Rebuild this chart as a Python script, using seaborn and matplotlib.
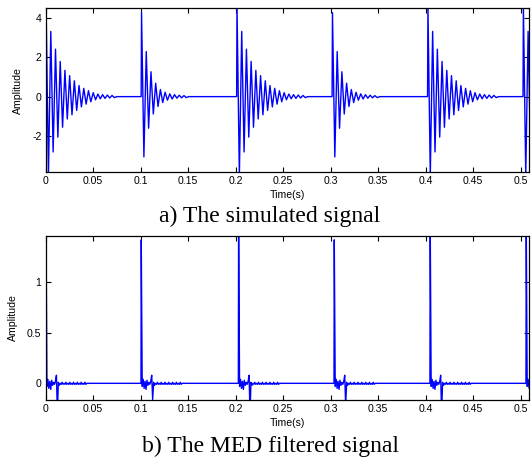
import matplotlib
matplotlib.use("Agg")
import numpy as np
import pandas as pd
import matplotlib.pyplot as plt
from matplotlib.ticker import FixedLocator, FuncFormatter
import seaborn as sns

# ---- simulated signal: impact bursts ----
burst_times = [0.0, 0.1005, 0.201, 0.3015, 0.402, 0.5025]
burst_shape = ["long", "short", "long", "short", "long", "long"]
half_period = 0.00248
# successive half-cycle extremes of one ringing burst
long_extremes = [4.6, -4.0, 3.3, -2.8, 2.4, -2.05, 1.78, -1.55, 1.33, -1.13,
                 1.06, -0.92, 0.8, -0.7, 0.56, -0.52, 0.42, -0.38, 0.3, -0.26,
                 0.2, -0.16, 0.13, -0.11, 0.1, -0.09, 0.08, -0.07, 0.06, -0.05]
short_extremes = [4.25, -3.05, 2.28, -1.6, 1.26, -0.88, 0.68, -0.5, 0.36, -0.3,
                  0.22, -0.18, 0.14, -0.12, 0.1, -0.08, 0.07, -0.06, 0.05, -0.05]

# ---- MED filtered signal ----
med_times = [0.0, 0.1003, 0.2028, 0.3035, 0.4045, 0.5056]
med_peaks = [1.6, 1.42, 1.6, 1.42, 1.6, 1.6]
med_dips = [-0.3, -0.16, -0.3, -0.22, -0.3, -0.3]
med_step = 0.001
med_after = [-0.03, 0.04, -0.05, 0.02, -0.06, 0.03, -0.02, 0.01, -0.01, 0.02, 0.08]
med_tail = [0.01, -0.02, 0.0, -0.01, 0.01, -0.01, 0.0, -0.01, 0.01, -0.01,
            0.0, -0.01, 0.01, -0.01, 0.0, -0.01, 0.01, -0.01, 0.0, -0.01,
            0.01, -0.01, 0.0, -0.01, 0.01, -0.01, 0.0, -0.01, 0.01, -0.01, 0.0]

x_ticks = [0, 0.05, 0.1, 0.15, 0.2, 0.25, 0.3, 0.35, 0.4, 0.45, 0.5]
top_yticks = [-2, 0, 2, 4]
bottom_yticks = [0, 0.5, 1]


def simulated_frame():
    t, y = [], []
    shapes = {"long": long_extremes, "short": short_extremes}
    for tb, kind in zip(burst_times, burst_shape):
        ext = shapes[kind]
        t.append(tb); y.append(0.0)
        start = tb + 0.0004
        for k, v in enumerate(ext):
            t.append(start + k * half_period); y.append(v)
        t.append(start + len(ext) * half_period); y.append(0.0)
    return pd.DataFrame({"Time(s)": t, "Amplitude": y})


def med_frame():
    t, y = [], []
    for tb, pk, dp in zip(med_times, med_peaks, med_dips):
        t.append(tb); y.append(0.0)
        s = tb + 0.0003
        vals = [pk] + med_after + [dp] + med_tail + [0.0]
        for k, v in enumerate(vals):
            t.append(s + k * med_step); y.append(v)
    return pd.DataFrame({"Time(s)": t, "Amplitude": y})


sns.set_theme(style="white")
plt.rcParams["font.family"] = ["Liberation Sans", "DejaVu Sans"]
plt.rcParams.update({
    "xtick.direction": "in", "ytick.direction": "in",
    "xtick.top": True, "ytick.right": True,
    "xtick.major.size": 3.6, "ytick.major.size": 3.6,
    "xtick.major.width": 0.8, "ytick.major.width": 0.8,
    "xtick.bottom": True, "ytick.left": True,
})

W, H = 531, 461
fig = plt.figure(figsize=(W / 100, H / 100), dpi=100)
fig.patch.set_facecolor("white")

ax1 = fig.add_axes([45.7 / W, 1 - 172.3 / H, (529 - 45.7) / W, 164 / H])
ax2 = fig.add_axes([45.7 / W, 1 - 400 / H, (529 - 45.7) / W, 164 / H])

fmt = FuncFormatter(lambda v, p: ("%g" % v))

for ax, df, ylim, yt in [(ax1, simulated_frame(), (-3.83, 4.47), top_yticks),
                         (ax2, med_frame(), (-0.165, 1.458), bottom_yticks)]:
    sns.lineplot(data=df, x="Time(s)", y="Amplitude", ax=ax, color="#0000ff",
                 linewidth=1.0, sort=False, estimator=None)
    ax.set_xlim(0, 0.5088)
    ax.set_ylim(*ylim)
    ax.xaxis.set_major_locator(FixedLocator(x_ticks))
    ax.yaxis.set_major_locator(FixedLocator(yt))
    ax.xaxis.set_major_formatter(fmt)
    ax.yaxis.set_major_formatter(fmt)
    ax.tick_params(axis="both", labelsize=7.6, colors="black", pad=3,
                   direction="in", top=True, right=True, length=3.6, width=0.8)
    for sp in ax.spines.values():
        sp.set_visible(True)
        sp.set_color("black")
        sp.set_linewidth(0.9)
    ax.set_xlabel("Time(s)", fontsize=7.6, color="black")
    ax.set_ylabel("Amplitude", fontsize=7.6, color="black")
    ax.xaxis.set_label_coords(0.5, -22.5 / 164)
    ax.xaxis.label.set_va("center")
    ax.yaxis.label.set_va("center")
    ax.grid(False)

ax1.yaxis.set_label_coords((18 - 45.7) / 483.3, 0.5)
ax2.yaxis.set_label_coords((13.3 - 45.7) / 483.3, 0.5)

fig.text(270 / W, 1 - 216 / H, "a) The simulated signal", ha="center", va="center",
         family=["Liberation Serif", "DejaVu Serif"], fontsize=17, color="black")
fig.text(270 / W, 1 - 446 / H, "b) The MED filtered signal", ha="center", va="center",
         family=["Liberation Serif", "DejaVu Serif"], fontsize=17, color="black")

fig.savefig("out.png", dpi=100, facecolor="white")
